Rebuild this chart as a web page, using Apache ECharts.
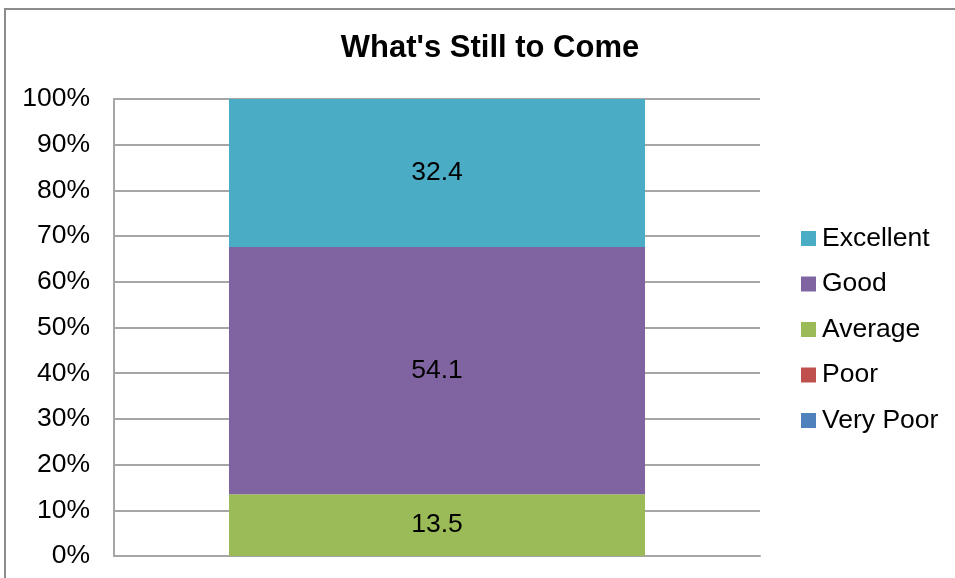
<!DOCTYPE html>
<html>
<head>
<meta charset="utf-8">
<script src="https://cdn.jsdelivr.net/npm/echarts@6/dist/echarts.min.js"></script>
<style>
html,body{margin:0;padding:0;background:#fff;}
#c{width:955px;height:578px;}
</style>
</head>
<body>
<div id="c"></div>
<script>
var categories = [''];
var seriesNames = ['Very Poor', 'Poor', 'Average', 'Good', 'Excellent'];
var veryPoor = [0];
var poor = [0];
var average = [13.5];
var good = [54.1];
var excellent = [32.4];
var legendOrder = ['Excellent', 'Good', 'Average', 'Poor', 'Very Poor'];
var yTicks = {min: 0, max: 100, interval: 10};

var colors = {
  'Very Poor': '#4F81BD',
  'Poor': '#C0504D',
  'Average': '#9BBB59',
  'Good': '#8064A2',
  'Excellent': '#4BACC6'
};
var values = [veryPoor, poor, average, good, excellent];
var FONT = '"Liberation Sans", Arial, sans-serif';

var chart = echarts.init(document.getElementById('c'), null, {renderer: 'canvas'});
chart.setOption({
  animation: false,
  backgroundColor: '#fff',
  title: {
    text: "What's Still to Come",
    left: 485, top: 28, textAlign: 'center',
    textStyle: {fontFamily: FONT, fontSize: 31, fontWeight: 'bold', color: '#000'}
  },
  graphic: [{
    type: 'rect', silent: true, z: -1,
    shape: {x: 5, y: 9, width: 970, height: 600},
    style: {fill: 'none', stroke: '#8c8c8c', lineWidth: 2}
  }],
  legend: {
    orient: 'vertical', left: 801, top: 225,
    data: legendOrder,
    itemWidth: 15, itemHeight: 15, itemGap: 18.5,
    icon: 'rect',
    textStyle: {fontFamily: FONT, fontSize: 26.5, color: '#000', lineHeight: 25, padding: [0, 0, 0, 1]},
    padding: 0
  },
  grid: {left: 114, right: 195, top: 99, bottom: 22, containLabel: false},
  xAxis: {
    type: 'category', data: categories,
    axisLine: {show: true, lineStyle: {color: '#a6a6a6', width: 2}},
    axisTick: {show: false}, axisLabel: {show: false}
  },
  yAxis: {
    type: 'value', min: yTicks.min, max: yTicks.max, interval: yTicks.interval,
    axisLine: {show: true, lineStyle: {color: '#a6a6a6', width: 2}},
    axisTick: {show: false},
    axisLabel: {formatter: '{value}%', fontFamily: FONT, fontSize: 26.5, color: '#000', margin: 24, padding: [6, 0, 0, 0]},
    splitLine: {show: true, lineStyle: {color: '#a6a6a6', width: 2}}
  },
  series: seriesNames.map(function (n, i) {
    return {
      name: n, type: 'bar', stack: 'total', data: values[i],
      barWidth: '64.4%',
      itemStyle: {color: colors[n]},
      label: {
        show: true, position: 'inside',
        fontFamily: FONT, fontSize: 26.5, color: '#000',
        formatter: function (p) { return p.value ? String(p.value) : ''; }
      }
    };
  })
});
</script>
</body>
</html>
